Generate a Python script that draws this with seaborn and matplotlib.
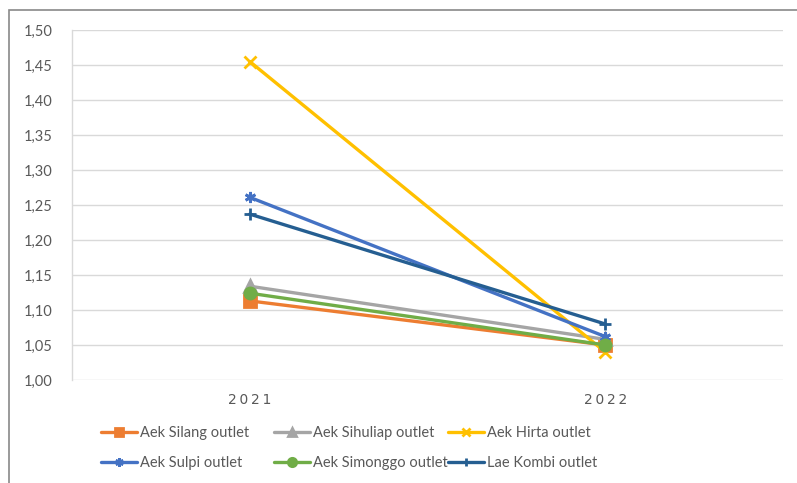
import matplotlib
matplotlib.use("Agg")
import matplotlib.pyplot as plt
from matplotlib.ticker import FuncFormatter, MultipleLocator
from matplotlib.patches import Rectangle
import seaborn as sns
import pandas as pd

# Outlet sites and sampling years
sites = ["Aek Silang outlet", "Aek Sihuliap outlet", "Aek Hirta outlet",
         "Aek Sulpi outlet", "Aek Simonggo outlet", "Lae Kombi outlet"]
years = ["2021", "2022"]

# Values per site (2021, 2022)
silang = [1.113, 1.050]
sihuliap = [1.134, 1.058]
hirta = [1.455, 1.040]
sulpi = [1.261, 1.062]
simonggo = [1.124, 1.050]
kombi = [1.237, 1.080]

colors = ["#ED7D31", "#A5A5A5", "#FFC000", "#4472C4", "#70AD47", "#255E91"]
markers = ["s", "^", "x", (6, 2, 0), "o", "+"]

series = [silang, sihuliap, hirta, sulpi, simonggo, kombi]
rows = []
for name, vals in zip(sites, series):
    for yr, v in zip(years, vals):
        rows.append({"site": name, "year": yr, "value": v})
df = pd.DataFrame(rows)

sns.set_theme(style="white")
plt.rcParams["font.family"] = ["Lato", "DejaVu Sans"]

fig = plt.figure(figsize=(7.97, 4.83), dpi=100)
ax = fig.add_axes([72 / 797, 1 - 380 / 483, 711 / 797, 350 / 483])

# draw series one by one (filled and line-art markers are mixed)
for name, col, mk in zip(sites, colors, markers):
    sub = df[df["site"] == name]
    sns.lineplot(
        data=sub, x="year", y="value", color=col, marker=mk,
        markeredgecolor=col, markerfacecolor=col,
        linewidth=2.4, markersize=8, markeredgewidth=2,
        sort=False, ax=ax, label=name, legend=False,
    )

ax.set_xlim(-0.5, 1.5)
ax.set_ylim(1.0, 1.5)
ax.yaxis.set_major_locator(MultipleLocator(0.05))
ax.yaxis.set_major_formatter(FuncFormatter(lambda v, p: f"{v:.2f}".replace(".", ",")))
ax.set_xticks([0, 1])
ax.set_xticklabels(["\u2009".join(y) for y in years], family=["DejaVu Sans"])
ax.grid(axis="y", color="#D9D9D9", linewidth=1)
ax.set_axisbelow(True)
for s in ["top", "right", "bottom"]:
    ax.spines[s].set_visible(False)
ax.spines["left"].set_color("#D9D9D9")
ax.spines["left"].set_linewidth(1)
ax.tick_params(axis="y", length=0, pad=14, labelsize=10.5, labelcolor="#595959")
ax.tick_params(axis="x", length=0, pad=9, labelsize=10, labelcolor="#595959")
ax.set_xlabel("")
ax.set_ylabel("")

handles, labels = ax.get_legend_handles_labels()
hmap = dict(zip(labels, handles))

# three legend columns, two entries each
columns = [[sites[0], sites[3]], [sites[1], sites[4]], [sites[2], sites[5]]]
col_x = [101, 274, 448]
for cx, names in zip(col_x, columns):
    leg = fig.legend(
        [hmap[n] for n in names], names,
        loc="upper left", bbox_to_anchor=(cx / 797, 1 - 426 / 483),
        frameon=False, fontsize=10.5, handlelength=2.5, handletextpad=0.2,
        labelspacing=1.1, borderaxespad=0, borderpad=0, markerscale=0.75,
    )
    for t in leg.get_texts():
        t.set_color("#595959")

# chart frame
fig.patches.append(Rectangle((9 / 797, -0.1), 1.0, 1 - 10 / 483 + 0.1,
                             transform=fig.transFigure, fill=False,
                             edgecolor="#898989", linewidth=1.2))

fig.savefig("out.png", dpi=100)
